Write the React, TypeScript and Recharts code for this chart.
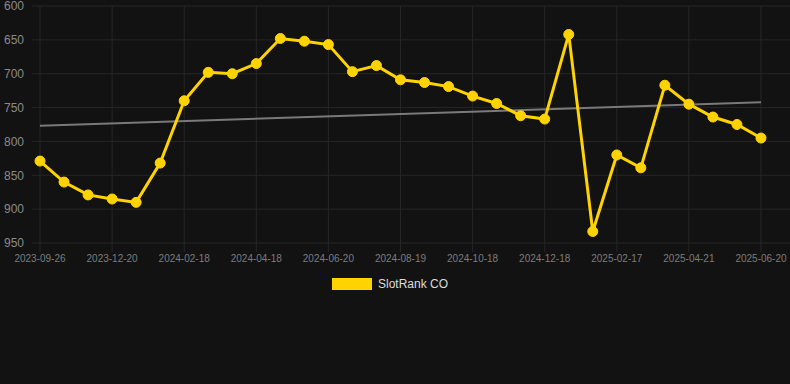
import React from 'react';
import { LineChart, Line, XAxis, YAxis, CartesianGrid, Legend, ReferenceLine } from 'recharts';

const dates = [
  '2023-09-26', '2023-10-24', '2023-11-21', '2023-12-20', '2024-01-09', '2024-01-29',
  '2024-02-18', '2024-03-07', '2024-03-28', '2024-04-18', '2024-05-09', '2024-05-30',
  '2024-06-20', '2024-07-10', '2024-07-30', '2024-08-19', '2024-09-08', '2024-09-28',
  '2024-10-18', '2024-11-07', '2024-11-27', '2024-12-18', '2025-01-07', '2025-01-28',
  '2025-02-17', '2025-03-10', '2025-03-31', '2025-04-21', '2025-05-11', '2025-05-31',
  '2025-06-20',
];

const ranks = [
  829, 860, 879, 885, 890, 832,
  740, 698, 700, 685, 648, 652,
  657, 697, 688, 709, 713, 719,
  733, 744, 762, 767, 642, 933,
  820, 839, 717, 745, 764, 775,
  795,
];

const trendStart = 777;
const trendEnd = 742;

const yTicks = [600, 650, 700, 750, 800, 850, 900, 950];

const data = dates.map((d, i) => ({ date: d, rank: ranks[i] }));

const GRID = '#262626';
const YELLOW = '#FFD300';

const LegendContent = () => (
  <div style={{ display: 'flex', justifyContent: 'center', alignItems: 'center', fontFamily: 'Liberation Sans, Arial, sans-serif', fontSize: 12, color: '#dddddd', paddingRight: 10 }}>
    <span style={{ display: 'inline-block', width: 40, height: 12, background: YELLOW, marginRight: 6 }} />
    <span>SlotRank CO</span>
  </div>
);

export default function App() {
  return (
    <div style={{ position: 'absolute', left: 0, top: 0, width: 790, height: 384, background: '#121212' }}>
      <LineChart
        width={790}
        height={384}
        data={data}
        margin={{ top: 6, right: 0, left: 0, bottom: 91 }}
        style={{ fontFamily: 'Liberation Sans, Arial, sans-serif' }}
      >
        <CartesianGrid stroke={GRID} strokeWidth={1} syncWithTicks />
        <XAxis
          dataKey="date"
          interval={2}
          padding={{ left: 8, right: 29 }}
          axisLine={false}
          tickLine={{ stroke: GRID }}
          tickSize={9}
          tickMargin={3}
          height={30}
          tick={{ fill: '#7c7c7c', fontSize: 10 }}
        />
        <YAxis
          reversed
          domain={[600, 950]}
          ticks={yTicks}
          interval={0}
          width={32}
          axisLine={false}
          tickLine={false}
          tickMargin={2}
          tick={{ fill: '#8a8a8a', fontSize: 12 }}
        />
        <ReferenceLine
          segment={[{ x: dates[0], y: trendStart }, { x: dates[dates.length - 1], y: trendEnd }]}
          stroke="#7a7a7a"
          strokeWidth={2}
          ifOverflow="visible"
        />
        <Line
          type="linear"
          dataKey="rank"
          name="SlotRank CO"
          stroke={YELLOW}
          strokeWidth={3}
          dot={{ r: 5, fill: YELLOW, stroke: YELLOW, strokeWidth: 1 }}
          activeDot={false}
          isAnimationActive={false}
        />
        <Legend verticalAlign="bottom" height={20} content={<LegendContent />} wrapperStyle={{ top: 277, left: 0, width: 790 }} />
      </LineChart>
    </div>
  );
}
